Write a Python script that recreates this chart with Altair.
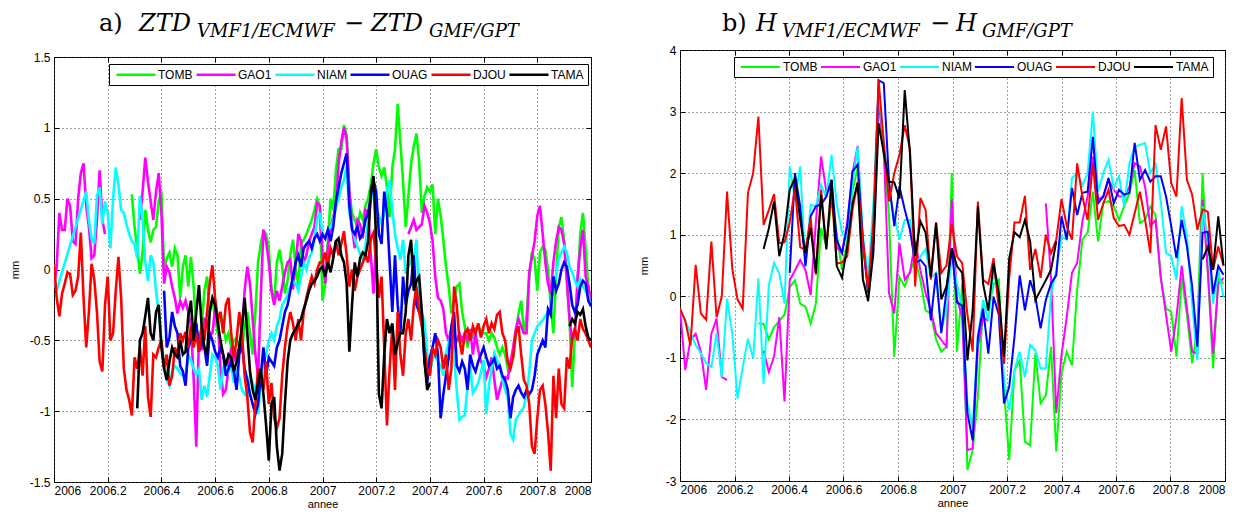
import altair as alt
import pandas as pd

NAMES = ["TOMB", "GAO1", "NIAM", "OUAG", "DJOU", "TAMA"]
COLORS = ["#00ff00", "#ff00ff", "#00ffff", "#0000ff", "#ff0000", "#000000"]
GAP = float("nan")  # NaN in the original data: the line is broken there

X_TICKS = [2006, 2006.2, 2006.4, 2006.6, 2006.8, 2007, 2007.2, 2007.4, 2007.6, 2007.8, 2008]
ZTD_TICKS = [-1.5, -1, -0.5, 0, 0.5, 1, 1.5]
H_TICKS = [-3, -2, -1, 0, 1, 2, 3, 4]

# ---------------- a) ZTD differences (mm), one sample every 0.01 yr ----------------
ZTD_T = [round(2006 + i / 100, 2) for i in range(201)]

ZTD_TOMB = [None] * 29 + [
    0.53, 0.30, 0.15, -0.03, 0.12, 0.42, 0.28, 0.19, 0.28, 0.30, 0.48, 0.55,
    0.00, 0.08, 0.12, 0.02, 0.15, 0.10, -0.20, 0.02, 0.10, -0.12,
    0.09, -0.12, -0.40, -0.50, -0.40, -0.15, -0.05, -0.30, -0.20, -0.35,
    -0.45, -0.30, -0.40, -0.50, -0.45, -0.55, -0.50, -0.48, -0.55, -0.58,
    -0.40, -0.30, -0.45, -0.60, -0.30, 0.05, 0.18, 0.27, 0.25, 0.15,
    -0.15, -0.22, 0.05, 0.14, 0.02, -0.17, -0.08, 0.10, 0.21, 0.02,
    -0.12, 0.18, 0.21, 0.25, 0.30, 0.35, 0.42, 0.50, 0.45, -0.22,
    -0.10, 0.20, 0.50, 0.42, 0.70, 0.85, 0.85, 1.02, 0.95, 0.55,
    0.40, 0.35, 0.30, 0.40, 0.35, 0.45, 0.50, 0.60, 0.75, 0.85,
    0.72, 0.66, 0.72, 0.58, 0.37, 0.72, 0.85, 1.17, 0.90, 0.62,
    0.30, 0.52, 0.75, 0.87, 0.96, 0.76, 0.40, 0.52, 0.58, 0.55,
    0.60, 0.25, 0.50, 0.38, 0.21, 0.02, -0.12, -0.31, -0.22, -0.12,
    -0.10, -0.30, -0.40, -0.55, -0.45, -0.48, -0.42, -0.40, -0.43, -0.45,
    -0.45, -0.50, -0.45, -0.48, -0.55, -0.60, -0.55, -0.60, -0.70, -0.65,
    -0.62, -0.45, -0.31, -0.22, -0.45, -0.33, -0.05, 0.12, 0.07, -0.15,
    0.12, 0.16, 0.14, 0.00, -0.25, -0.45, -0.05, 0.30, 0.37, 0.20,
    -0.05, -0.35, -0.83, -0.45, -0.12, 0.25, 0.40, 0.15, -0.12, -0.22,
]

ZTD_GAO1 = [
    -0.12, 0.02, 0.40, 0.28, 0.28, 0.50, 0.45, 0.20, 0.18, 0.50,
    0.68, 0.75, 0.45, 0.30, 0.08, 0.10, 0.35, 0.70, 0.35, 0.25,
] + [GAP] * 12 + [
    0.35, 0.55, 0.79, 0.62, 0.48, 0.35, 0.55, 0.68, 0.40,
    -0.10, 0.02, -0.02, -0.12, -0.20, -0.31, -0.22, -0.27, -0.22, -0.30,
    -0.40, -0.76, -1.25, -0.45, -0.57, -0.35, -0.36, -0.45, -0.45, -0.28,
    -0.36, -0.70, -0.88, -0.85, -0.70, -0.55, -0.64, -0.60, -0.55, -0.45,
    -0.15, 0.02, -0.10, -0.35, -0.60, -0.75, -0.20, 0.28, 0.20, 0.05,
    -0.15, -0.25, -0.15, -0.22, -0.12, -0.02, 0.05, 0.07, -0.14, 0.04,
    0.25, 0.20, 0.05, 0.10, 0.20, 0.25, 0.30, 0.47, 0.45, 0.10,
    -0.10, 0.15, 0.30, 0.37, 0.45, 0.75, 0.90, 1.00, 0.92, 0.55,
    0.30, 0.15, 0.35, 0.32, 0.22, 0.42, 0.40, 0.10, -0.17, 0.20,
] + [GAP] * 11 + [
    0.25, 0.30, 0.35, 0.28, 0.30, 0.32, 0.45, 0.40, 0.33,
    0.20, -0.05, -0.20, -0.22, -0.28, -0.45, -0.50, -0.42, -0.55, -0.50,
    -0.45, -0.50, -0.45, -0.50, -0.42, -0.60, -0.45, -0.57, -0.65, -0.68,
    -0.76, -0.70, -0.62, -0.78, -0.92, -0.85, -0.78, -0.76, -0.77, -0.66,
    -0.55, -0.42, -0.35, -0.40, -0.45, -0.45, -0.02, 0.09, 0.20, 0.38,
    0.45, 0.25, 0.05, -0.10, -0.17, 0.05, 0.20, 0.30, 0.28, 0.18,
    -0.08, -0.35, -0.50, -0.45, -0.05, 0.15, 0.28, -0.05, -0.12, -0.22,
]

ZTD_NIAM = [-0.05, -0.15, -0.08] + [None] * 9 + [
    0.55, 0.35, 0.22, 0.18, 0.52, 0.58, 0.32, 0.48, 0.40,
    0.15, 0.50, 0.72, 0.60, 0.42, 0.40, 0.32, 0.25, 0.20, 0.18,
    0.08, 0.52, 0.35, 0.05, -0.08, 0.10, 0.05, -0.15, -0.30, -0.50,
    -0.66, -0.78, -0.82, -0.72, -0.68, -0.70, -0.73, -0.75, -0.76, -0.60,
    -0.64, -0.70, -0.74, -0.70, -0.92, -0.82, -0.90, -0.75, -0.60, -0.62,
    -0.68, -0.85, -0.70, -0.65, -0.72, -0.68, -0.80, -0.70, -0.76, -0.85,
    -0.88, -0.90, -0.75, -0.80, -0.85, -1.02, -0.80, -0.65, -0.60, -0.50,
    -0.45, -0.50, -0.40, -0.35, -0.25, -0.22, -0.18, -0.12, -0.08, -0.10,
    -0.15, -0.05, 0.05, 0.00, 0.08, 0.12, 0.22, 0.35, 0.40, 0.25,
    0.22, 0.28, 0.30, 0.35, 0.44, 0.50, 0.58, 0.63, 0.73, 0.40,
    0.32, 0.22, 0.16, 0.11, 0.07, 0.16, 0.35, 0.48, 0.59, 0.44,
    0.38, 0.32, 0.40, 0.56, 0.63, 0.42, 0.25, 0.15, 0.07, 0.21,
    -0.03, 0.02, 0.06, 0.09, 0.21, -0.21, -0.30, -0.38, -0.59, -0.73,
    -0.64, -0.60, -0.65, -0.68, -0.75, -0.59, -0.52, -0.45, -0.62, -0.85,
    -1.06, -1.04, -1.03, -0.83, -0.68, -0.87, -0.84, -0.80, -0.73, -0.64,
    -1.02, -0.82, -0.70, -0.59, -0.64, -0.68, -0.78, -0.85, -0.90, -1.16,
    -1.20, -1.06, -1.03, -1.00, -0.97, -0.87, -0.73, -0.50, -0.45, -0.40,
    -0.38, -0.36, -0.33, -0.30, -0.26, -0.12, -0.03, 0.08, 0.12, 0.16,
    0.12, 0.02, -0.02, -0.08, -0.12, -0.07, -0.12, -0.15, -0.18, -0.26,
]

ZTD_OUAG = [None] * 41 + [
    -0.15, -0.55, -0.48, -0.30, -0.40, -0.45, -0.68, -0.72, -0.82, -0.55,
    -0.50, -0.45, -0.38, -0.58, -0.50, -0.55, -0.68, -0.45, -0.50, -0.58,
    -0.62, -0.55, -0.60, -0.75, -0.70, -0.65, -0.72, -0.85, -0.60, -0.52,
    -0.70, -0.78, -0.88, -0.95, -1.02, -0.95, -0.75, -0.55, -0.75, -0.62,
    -0.65, -0.68, -0.55, -0.50, -0.40, -0.30, -0.25, -0.15, -0.05, 0.05,
    0.10, 0.02, 0.15, 0.18, 0.20, 0.15, 0.22, 0.25, 0.20, 0.25,
    0.22, 0.28, 0.20, 0.30, 0.48, 0.58, 0.68, 0.75, 0.82, 0.45,
    0.28, 0.25, 0.30, 0.22, 0.25, 0.35, 0.40, 0.52, 0.63, 0.55,
    0.25, 0.18, 0.55, 0.40, 0.05, -0.30, 0.10, -0.25, -0.45, -0.05,
    -0.25, -0.15, -0.10, 0.10, -0.25, -0.30, -0.32, -0.65, -0.80, -0.62,
    -0.55, -0.45, -0.60, -1.05, -0.88, -0.75, -0.62, -0.40, -0.30, -0.68,
    -0.72, -0.65, -0.70, -0.85, -0.60, -0.68, -0.72, -0.65, -0.60, -0.55,
    -0.62, -0.68, -0.66, -0.63, -0.70, -0.68, -0.75, -0.78, -0.85, -1.05,
    -0.90, -0.85, -0.82, -0.87, -0.90, -0.85, -0.88, -0.85, -0.75, -0.60,
    -0.55, -0.50, -0.55, -0.28, -0.32, -0.05, -0.15, -0.10, 0.00, 0.05,
    0.02, -0.10, -0.25, -0.30, -0.25, -0.12, -0.08, -0.10, -0.22, -0.26,
]

ZTD_DJOU = [
    0.04, -0.20, -0.33, -0.17, -0.10, -0.02, -0.03, -0.18, -0.15, -0.05, 0.26,
    -0.20, -0.55, -0.30, 0.04, -0.07, -0.30, -0.65, -0.72, -0.25, -0.05,
    -0.50, -0.45, -0.15, 0.09, -0.20, -0.70, -0.85, -0.92, -1.03, -0.62,
    -0.70, -0.55, -0.75, -0.40, -0.90, -1.04, -0.60, -0.62, -0.55, -0.50,
    -0.70, -0.60, -0.82, -0.75, -0.55, -0.60, -0.45, -0.50, -0.44, -0.55,
    -0.40, -0.55, -0.45, -0.58, -0.40, -0.50, -0.30, -0.10, 0.03, -0.20,
    -0.35, -0.30, -0.45, -0.25, -0.20, -0.45, -0.62, -0.50, -0.30, -0.45,
    -0.75, -0.90, -1.15, -1.22, -0.95, -0.70, -0.75, -0.85, -0.65, -0.95,
    -0.80, -1.05, -1.12, -1.05, -0.75, -0.55, -0.40, -0.30, -0.38, -0.50,
    -0.35, -0.50, -0.30, -0.20, -0.12, -0.05, -0.10, 0.00, 0.05, 0.05,
    0.12, 0.02, 0.15, 0.10, 0.20, 0.10, 0.18, 0.27, 0.10, -0.12,
    0.00, -0.15, -0.05, 0.00, 0.05, 0.10, 0.05, 0.22, 0.26, 0.05,
    -0.20, -0.05, -0.55, -1.10, -0.70, -0.40, -0.85, -0.30, -0.60, -0.75,
    -0.45, -0.35, -0.50, -0.25, -0.12, -0.30, -0.40, -0.55, -0.70, -0.75,
    -0.55, -0.60, -0.50, -0.55, -0.70, -0.60, -0.85, -0.70, -0.12, -0.25,
    -0.50, -0.60, -0.45, -0.42, -0.50, -0.40, -0.45, -0.38, -0.48, -0.40,
    -0.35, -0.45, -0.38, -0.42, -0.32, -0.30, -0.45, -0.50, -0.65, -0.70,
    -0.62, -0.45, -0.40, -0.60, -0.78, -0.82, -0.95, -1.25, -1.30, -1.05,
    -0.85, -0.82, -0.95, -1.15, -1.42, -0.75, -1.05, -0.70, -0.95, -0.98,
    -0.62, -0.70, -0.48, -0.42, -0.50, -0.35, -0.42, -0.45, -0.50, -0.55,
]

ZTD_TAMA = [None] * 31 + [
    -0.98, -0.50, -0.45, -0.33, -0.20, -0.45, -0.50, -0.30, -0.25, -0.55,
    -0.70, -0.78, -0.65, -0.55, -0.60, -0.62, -0.50, -0.60, -0.58, -0.33,
    -0.22, -0.50, -0.30, -0.11, -0.40, -0.55, -0.60, -0.30, -0.20, -0.25,
    -0.38, -0.50, -0.60, -0.68, -0.60, -0.62, -0.72, -0.65, -0.55, -0.40,
    -0.20, -0.45, -0.72, -0.85, -0.92, -0.80, -0.70, -0.88, -1.10, -1.35,
    -0.95, -0.90, -1.25, -1.42, -1.30, -0.95, -0.65, -0.50, -0.45, -0.42,
    -0.38, -0.35, -0.28, -0.22, -0.15, -0.10, -0.08, -0.05, 0.00, 0.02,
    -0.05, 0.05, -0.02, 0.08, 0.20, 0.22, 0.10, 0.05, -0.10, -0.58,
    -0.25, 0.05, -0.05, 0.08, 0.12, 0.10, 0.20, 0.55, 0.66, 0.20,
    -0.88, -0.98, -0.60, -0.35, -0.45, -0.38, -0.60, -0.52, -0.45, -0.45,
    -0.30, 0.10, 0.21, -0.15, -0.08, -0.05, -0.30, -0.65, -0.85, -0.80,
] + [GAP] * 51 + [
    -0.40, -0.35, -0.38, -0.30, -0.32, -0.28, -0.40, -0.48, -0.50,
]

# ---------------- b) H differences (mm), weekly samples ----------------
H_T = [round(2006 + j * 7 / 365, 4) for j in range(105)]

H_TOMB = [GAP] * 15 + [
    -0.44, -0.45, -0.70, -0.50, -0.40,
    -0.30, 0.15, 0.26, -0.12, -0.17, -0.44, -0.12, 1.11, 0.81, 1.57,
    1.00, 0.43, 0.90, 1.70, 2.10, 0.27, 0.05, 1.20, 3.20, 2.30,
    1.30, -0.98, 0.31, 0.16, 0.40, 0.60, 0.26, -0.23, -0.28, -0.70,
    -0.90, -0.82, 2.00, -0.90, 0.20, -2.82, -2.50, -1.63, -0.12, -0.23,
    0.20, 0.27, -1.52, -2.66, -1.20, -1.04, -2.36, -2.42, -0.93, -1.74,
    -1.61, -0.82, -2.52, -1.25, -0.90, -1.12, 0.10, 0.92, 1.03, 1.70,
    0.89, 1.51, 1.55, 1.46, 1.24, 1.46, 1.68, 2.05, 1.19, 1.24,
    1.46, 1.32, 0.30, -0.20, -0.25, -0.98, 0.30, -0.30, -1.09, -0.50,
    2.00, 0.40, -1.17, 0.30, 0.20,
]

H_GAO1 = [
    -0.20, -1.20, -0.71, -0.61, -0.90, -1.52, -0.61, -0.36, -1.31, -1.36,
] + [GAP] * 6 + [
    -0.88, -1.23, -0.98, -0.34,
    -1.71, 0.26, 0.42, 0.59, 0.43, 0.02, 1.20, 2.27, 1.70, 1.75,
    0.80, 0.70, 1.20, 2.00, 2.44, 0.80, 0.10, 0.90, 3.20, 2.40,
    0.05, -0.28, 0.86, 0.27, 0.38, 0.90, 0.42, 0.05, -0.23, -0.60,
    -0.71, -0.82, 1.57, -0.05, -0.34, -2.50, -2.47, -0.82, -0.34, -0.40,
] + [GAP] * 10 + [
    1.51, 0.30, -1.90, -0.95, -0.34, 0.38, 0.54, 1.22, 1.62, 2.27,
    1.57, 1.62, 1.89, 1.73, 1.62, 1.62, 1.78, 2.16, 2.11, 1.78,
    1.14, 1.24, 0.30, -0.30, -0.90, -0.34, 0.50, -0.20, -0.90, -0.93,
    1.57, 0.40, -0.93, 0.20, 0.30,
]

H_NIAM = [
    -0.20, -0.39, -0.60, -0.79, -0.93, -1.09, -1.15, -0.60, -1.31, -0.04,
    -0.60, -1.66, -1.15, -0.69, -1.01, 0.29, -1.42, 0.18, 0.54, 0.37,
    -0.12, 2.11, 1.57, 2.11, 0.49, 1.49, 1.46, 1.81, 1.60, 2.30,
    1.50, 1.03, 0.92, 1.84, 2.43, 1.00, 0.30, 1.50, 3.35, 2.50,
    1.70, 1.30, 0.92, 1.24, 1.24, 0.45, 0.65, 0.76, 0.30, 0.38,
    -0.55, -0.20, 0.65, 0.20, -0.20, -1.74, -2.12, -0.66, -0.06, -0.40,
    0.42, 0.00, -1.36, -1.85, -1.20, -0.90, -1.31, -0.79, -0.88, -1.17,
    -1.17, 0.04, 0.42, 0.97, 0.92, 1.92, 2.00, 1.80, 2.00, 3.00,
    1.70, 2.00, 2.22, 1.76, 1.95, 1.46, 2.16, 2.43, 2.46, 2.49,
    2.00, 2.14, 1.54, 0.70, 0.65, 0.27, 1.46, 0.97, -0.12, -1.04,
    1.46, 0.90, -0.12, 0.42, -0.01,
]

H_OUAG = [GAP] * 21 + [
    0.38, 2.00, 1.46, 0.49, 1.30, 1.46, 1.49, 1.62, 1.89,
    0.92, 0.70, 1.14, 2.03, 2.14, 0.92, 0.05, 0.92, 3.51, 3.46,
    1.86, 1.14, 1.78, 1.41, 1.08, 0.54, 0.59, 0.49, -0.39, 0.38,
    -0.60, 0.10, 0.78, -0.10, -0.15, -1.90, -2.34, -0.66, -0.20, -0.93,
    -0.01, -0.30, -1.74, -1.47, -0.66, 0.34, -0.23, 0.26, -0.01, -0.52,
    -0.06, 0.21, 0.34, 1.30, 0.92, 1.76, 1.32, 1.68, 1.70, 2.59,
    1.51, 1.62, 1.92, 1.51, 1.73, 1.65, 1.68, 2.49, 1.89, 2.05,
    1.86, 1.95, 1.95, 1.62, 1.14, 0.62, 1.24, 0.81, 0.16, -0.82,
    1.03, 1.05, 0.04, 0.49, 0.35,
]

H_DJOU = [
    -0.20, -0.40, -0.80, 0.51, -0.28, -0.38, 0.89, -0.34, 0.00, 1.70,
    0.45, -0.05, -0.20, 1.68, 2.00, 2.92, 1.16, 1.40, 1.66, 0.86,
    0.88, 1.20, 1.75, 0.80, 0.75, 1.27, 0.35, 1.73, 0.80, 1.70,
    0.53, 0.55, 0.65, 1.40, 1.86, 0.90, 0.10, 1.20, 3.51, 2.50,
    1.54, 2.00, 2.30, 2.78, 2.40, 0.16, 1.60, 1.40, 0.27, 1.20,
    0.38, 0.50, 1.17, 0.65, 0.54, -0.30, -0.90, 1.54, 0.27, 0.20,
    0.62, -0.20, -1.10, 0.30, 1.20, 1.20, 1.63, 0.43, 0.77, 0.30,
    1.00, 0.70, 0.92, 1.58, 1.14, 0.92, 2.16, 1.62, 1.24, 2.16,
    1.24, 1.51, 1.73, 1.27, 1.14, 1.16, 1.00, 1.35, 1.70, 1.24,
    0.70, 2.78, 2.38, 2.76, 1.84, 1.62, 3.22, 1.89, 1.65, 1.08,
    1.41, 1.37, 0.43, 0.81, 0.50,
]

H_TAMA = [GAP] * 16 + [
    0.77, 1.10, 1.54, 0.65,
    1.03, 1.73, 1.92, 1.24, 0.70, 1.11, 0.38, 1.65, 0.76, 1.89,
    0.49, 0.30, 0.81, 1.51, 1.84, 0.27, -0.08, 0.70, 2.81, 2.32,
    1.86, 1.85, 1.59, 3.35, 2.32, 0.65, 1.22, 1.03, 0.32, 1.19,
    -0.05, 0.16, 0.78, 0.49, 0.38, -1.04, -0.23, 1.46, 0.20, -0.23,
    0.54, 0.05, -0.98, 0.62, 1.04, 0.96, 1.24, 0.89, -0.06, 0.10,
    0.26, 0.43, 0.89,
] + [GAP] * 27 + [
    0.60, 0.80, 0.43, 1.30, 0.50,
]


def long_table(t_values, series):
    rows = []
    for name, vals in zip(NAMES, series):
        assert len(vals) == len(t_values), (name, len(vals))
        for t, v in zip(t_values, vals):
            if v is None:          # no sample: the line joins its neighbours
                continue
            rows.append({"t": t, "v": None if v != v else v, "s": name})
    return pd.DataFrame(rows)


ztd_df = long_table(ZTD_T, [ZTD_TOMB, ZTD_GAO1, ZTD_NIAM, ZTD_OUAG, ZTD_DJOU, ZTD_TAMA])
h_df = long_table(H_T, [H_TOMB, H_GAO1, H_NIAM, H_OUAG, H_DJOU, H_TAMA])

SANS = "Liberation Sans"
SERIF = "DejaVu Serif"


def text_piece(txt, x, y, size, italic):
    return alt.Chart(alt.Data(values=[{}])).mark_text(
        text=txt, font=SERIF, fontSize=size, fontStyle="italic" if italic else "normal",
        align="left", baseline="alphabetic", color="black",
    ).encode(x=alt.value(x), y=alt.value(y))


def panel(df, ydom, yticks, width, height, sw, ytitle_pad, legend_xy, col_pad, lab_off, pieces):
    xs = alt.Scale(domain=[2006, 2008], nice=False, zero=False)
    ys = alt.Scale(domain=ydom, nice=False, zero=False)
    lines = alt.Chart(df).mark_line(strokeWidth=sw, clip=True).encode(
        x=alt.X("t:Q", scale=xs, axis=alt.Axis(
            values=X_TICKS, labelExpr="toString(datum.value)", title="annee", orient="bottom",
            offset=-5, tickSize=5, ticks=True, domain=False, grid=True,
            labelPadding=3, titlePadding=2)),
        y=alt.Y("v:Q", scale=ys, axis=alt.Axis(
            values=yticks, labelExpr="toString(datum.value)", title="mm", orient="left",
            offset=-5, tickSize=5, ticks=True, domain=False, grid=True,
            labelPadding=4, titlePadding=ytitle_pad)),
        color=alt.Color("s:N", scale=alt.Scale(domain=NAMES, range=COLORS), legend=alt.Legend(
            orient="none", legendX=legend_xy[0], legendY=legend_xy[1], direction="horizontal",
            title=None, symbolType="M-0.6,0H7.2", symbolSize=100, symbolStrokeWidth=sw,
            labelFont=SANS, labelFontSize=12, labelColor="black", labelOffset=lab_off,
            fillColor="white", strokeColor="black", padding=4, columnPadding=col_pad,
            rowPadding=0)),
    )
    frame = alt.Chart(alt.Data(values=[{"t": 2007, "v": 0}])).mark_point(opacity=0).encode(
        x=alt.X("t:Q", scale=xs, axis=alt.Axis(
            values=X_TICKS, orient="top", offset=-5, tickSize=5, ticks=True, labels=False,
            domain=False, grid=False, title=None)),
        y=alt.Y("v:Q", scale=ys, axis=alt.Axis(
            values=yticks, orient="right", offset=-5, tickSize=5, ticks=True, labels=False,
            domain=False, grid=False, title=None)),
    )
    texts = [text_piece(*p) for p in pieces]
    body = alt.layer(lines, frame, *texts).resolve_axis(
        x="independent", y="independent").properties(width=width, height=height)
    # a tiny invisible row above each panel: the panels are then stacked under
    # their titles, so both titles line up while the plot frames start at their own heights
    spacer = alt.Chart(alt.Data(values=[{}])).mark_point(opacity=0, size=1).properties(
        width=1, height=1, view=alt.ViewBackground(stroke="transparent"))
    return alt.vconcat(spacer, body, spacing=0).resolve_scale(color="independent")


# title pieces: (text, x, baseline y, font size, italic) relative to the plot's top-left corner
left = panel(
    ztd_df, [-1.5, 1.5], ZTD_TICKS, 537, 425, 2.6, 9, (55, 7), -6, 32,
    [("a)", 45, -26, 24, False), ("ZTD", 85, -26, 24, True), ("VMF1/ECMWF", 143, -20, 18, True),
     ("\u2212", 290, -26, 24, False), ("ZTD", 317, -26, 24, True), ("GMF/GPT", 375, -20, 18, True)],
)
right = panel(
    h_df, [-3, 4], H_TICKS, 545, 431, 2.0, 16, (54, 7), -3, 33,
    [("b)", 42, -19, 24, False), ("H", 76, -19, 24, True), ("VMF1/ECMWF", 102, -13, 18, True),
     ("\u2212", 250, -19, 24, False), ("H", 276, -19, 24, True), ("GMF/GPT", 302, -13, 18, True)],
)

chart = alt.hconcat(left, right, spacing=45).resolve_scale(
    color="independent"
).properties(
    padding={"left": 0, "top": 0, "right": 0, "bottom": 0}
).configure(background="white").configure_view(
    stroke="black", strokeWidth=1
).configure_axis(
    labelFont=SANS, labelFontSize=12, labelColor="black",
    titleFont=SANS, titleFontSize=11, titleFontWeight="normal", titleColor="black",
    gridColor="#444444", gridDash=[1, 3], gridOpacity=1, gridWidth=1, tickColor="black",
)

chart.save("out.html", embed_options={"renderer": "svg", "actions": False})
